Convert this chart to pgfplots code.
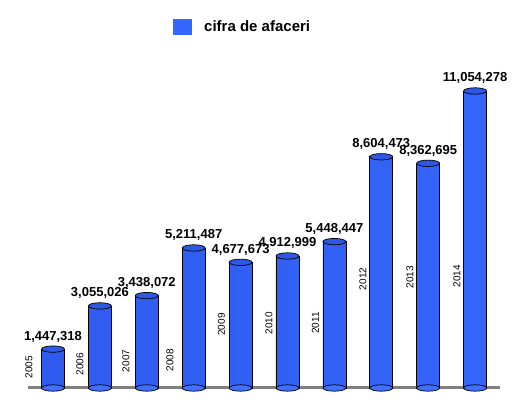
\documentclass[border=0pt]{standalone}
\usepackage{fontspec}
\setmainfont{Liberation Sans}
\usepackage{pgfplots}
\pgfplotsset{compat=1.18}
\usepackage{pgfplotstable}

\definecolor{barL}{HTML}{2F5CEE}
\definecolor{barM}{HTML}{3F70FF}
\definecolor{barR}{HTML}{3464FA}
\definecolor{capblue}{HTML}{2D58E4}
\definecolor{legblue}{HTML}{3366FF}
\definecolor{floorgray}{HTML}{808080}

% cifra de afaceri pe ani
\pgfplotstableread{
x  an   cifra
0  2005 1447318
1  2006 3055026
2  2007 3438072
3  2008 5211487
4  2009 4677673
5  2010 4912999
6  2011 5448447
7  2012 8604473
8  2013 8362695
9  2014 11054278
}\cifra

% pozitia etichetelor cu anul
\pgfplotstableread{
x      y       an
-0.512 781500  2005
 0.576 893000  2006
 1.556 1005000 2007
 2.495 1042000 2008
 3.593 2363000 2009
 4.606 2419000 2010
 5.597 2419000 2011
 6.610 4057000 2012
 7.612 4131000 2013
 8.614 4168000 2014
}\ani

\begin{document}
\begin{tikzpicture}
\begin{axis}[
    scale only axis,
    width=515pt, height=410pt,
    axis line style={draw=none}, xtick=\empty, ytick=\empty,
    clip=false,
    xmin=-1.130, xmax=9.851,
    ymin=-818800, ymax=14440000,
    legend style={draw=none, fill=none, at={(0.336,0.954)}, anchor=north west,
      font=\fontsize{15}{17}\selectfont\bfseries, inner sep=0pt},
  ]
  % podea
  \addplot[floorgray, line width=3pt, forget plot] coordinates {(-0.533,0) (9.53,0)};
  % baza cilindrilor
  \addplot[only marks, mark=*, forget plot,
    mark options={draw=black, fill=barM, line width=0.7pt, xscale=5.75, yscale=1.6}]
    table[x=x, y expr=0] {\cifra};
  % cilindri
  \addplot[ybar, bar width=23pt, draw=black, line width=0.7pt, forget plot,
    left color=barL, middle color=barM, right color=barR]
    table[x=x, y=cifra] {\cifra};
  % capace + valori
  \addplot[only marks, mark=*, forget plot,
    mark options={draw=black, fill=capblue, line width=0.7pt, xscale=5.75, yscale=1.6},
    nodes near coords={\pgfmathprintnumber[fixed, precision=0, 1000 sep={,}, assume math mode=true]{\pgfplotspointmeta}},
    every node near coord/.style={anchor=base, yshift=9pt, inner sep=0pt,
      font=\fontsize{13}{15}\selectfont\bfseries, text=black}]
    table[x=x, y=cifra] {\cifra};
  % ani
  \addplot[draw=none, mark=none, forget plot,
    nodes near coords, point meta=explicit symbolic,
    every node near coord/.style={anchor=center, rotate=90, inner sep=0pt,
      font=\fontsize{10}{12}\selectfont, text=black}]
    table[x=x, y=y, meta=an] {\ani};
  \addlegendimage{draw=none, legend image code/.code={%
      \fill[legblue, draw=none] (0pt,-8pt) rectangle (19pt,8pt);
      \path[draw=none, fill=none] (0pt,0pt) -- (29pt,0pt);}}
  \addlegendentry{cifra de afaceri}
\end{axis}
\end{tikzpicture}
\end{document}
